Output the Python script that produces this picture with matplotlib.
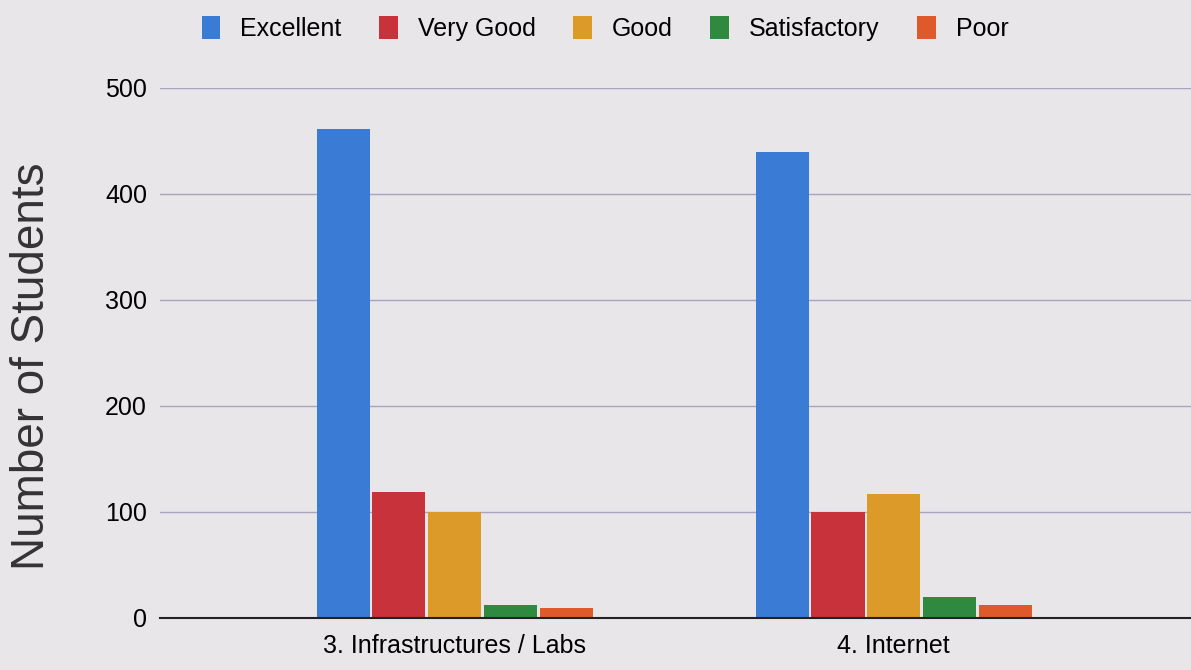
import numpy as np
import matplotlib.pyplot as plt

plt.rcParams['font.family'] = ['Liberation Sans', 'DejaVu Sans']

categories = ['3. Infrastructures / Labs', '4. Internet']
ratings = ['Excellent', 'Very Good', 'Good', 'Satisfactory', 'Poor']
excellent = [461, 439]
very_good = [119, 100]
good = [100, 117]
satisfactory = [12, 20]
poor = [9, 12]
colors = ['#3a7bd5', '#c8323a', '#dc9a28', '#2f8a3f', '#de5a2a']

series = [excellent, very_good, good, satisfactory, poor]

fig = plt.figure(figsize=(11.91, 6.70), dpi=100)
bg = '#e8e6e9'
fig.patch.set_facecolor(bg)
ax = fig.add_axes([0.134, 0.078, 0.866, 0.791])
ax.set_facecolor(bg)

x = np.arange(len(categories))
w = 0.121
for i, (vals, c, lab) in enumerate(zip(series, colors, ratings)):
    ax.bar(x + (i - 2) * (w + 0.006), vals, width=w, color=c, label=lab, zorder=3)

ax.set_xlim(-0.672, 1.677)
ax.set_ylim(0, 500)
ax.set_yticks([0, 100, 200, 300, 400, 500])
ax.set_xticks(x)
ax.set_xticklabels(categories, fontsize=18)
ax.tick_params(axis='y', labelsize=18, length=0, pad=9)
ax.tick_params(axis='x', length=0, pad=12)
ax.grid(axis='y', color='#a8a3c0', linewidth=1, zorder=0)
for s in ['top', 'right', 'left']:
    ax.spines[s].set_visible(False)
ax.spines['bottom'].set_color('#222222')
ax.spines['bottom'].set_linewidth(1.5)
ax.spines['bottom'].set_zorder(4)

ax.set_ylabel('Number of Students', fontsize=33, color='#333333')
ax.yaxis.set_label_coords(-0.102, 0.474)

leg = fig.legend(loc='center', bbox_to_anchor=(0.508, 0.957), ncol=5, frameon=False,
                 fontsize=18, handlelength=0.75, handleheight=1.0, columnspacing=1.5, handletextpad=0.8)

plt.savefig('out.png', dpi=100, facecolor=bg)
